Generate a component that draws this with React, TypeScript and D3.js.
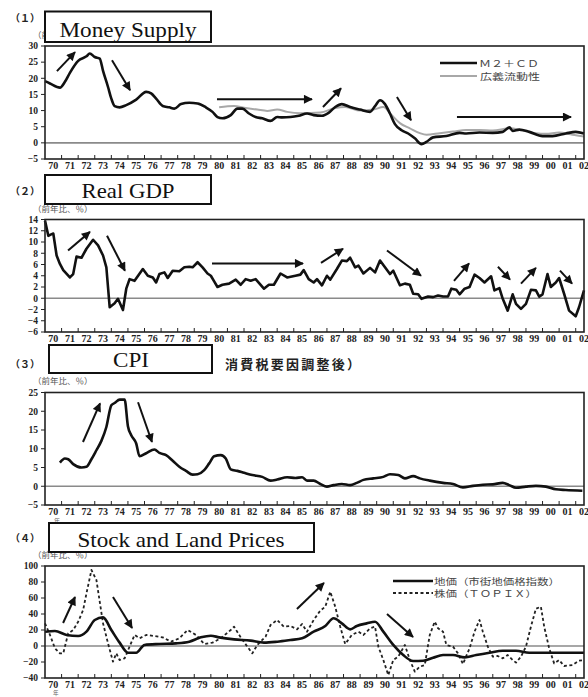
import React from 'react';
import * as d3 from 'd3';

const W = 588;
const H = 697;
const X0 = 45;
const X1 = 584;

// x axis: years 1970-2002
const years = d3.range(1970, 2003);
const yearLabels = years.map((y) => String(y % 100).padStart(2, '0'));

// (1) money supply, M2+CD
const m2T = [1970.0, 1970.3, 1970.9, 1971.2, 1971.5, 1972.0, 1972.5, 1972.7, 1973.0, 1973.3, 1973.5, 1973.8, 1974.0, 1974.2, 1974.5, 1974.9, 1975.5, 1976.1, 1976.4, 1976.7, 1977.1, 1977.5, 1977.8, 1978.2, 1978.7, 1979.2, 1979.7, 1980.1, 1980.4, 1980.7, 1981.2, 1981.6, 1981.9, 1982.3, 1982.7, 1983.1, 1983.6, 1984.0, 1984.3, 1984.8, 1985.3, 1985.8, 1986.2, 1986.7, 1987.1, 1987.5, 1987.9, 1988.4, 1989.0, 1989.6, 1989.9, 1990.2, 1990.5, 1990.8, 1991.1, 1991.5, 1991.9, 1992.3, 1992.7, 1993.0, 1993.4, 1994.2, 1995.0, 1995.4, 1996.2, 1997.0, 1997.6, 1998.0, 1998.2, 1998.6, 1999.2, 2000.0, 2000.6, 2001.4, 2002.0, 2002.5];
const m2V = [19.1, 18.4, 17.1, 18.9, 21.7, 25.4, 26.8, 27.7, 26.6, 26.1, 22.3, 17.3, 13.7, 11.4, 11.0, 11.7, 13.4, 15.8, 15.3, 13.7, 11.4, 11.0, 10.6, 12.0, 12.4, 12.2, 11.0, 9.6, 8.0, 7.6, 8.6, 10.6, 10.6, 9.1, 8.0, 7.6, 6.8, 8.0, 7.9, 8.0, 8.4, 9.1, 8.6, 8.4, 9.3, 11.1, 12.0, 11.1, 10.3, 9.6, 11.4, 13.2, 12.0, 9.1, 5.8, 3.9, 2.9, 1.4, -0.4, 0.3, 1.7, 2.1, 3.1, 2.9, 3.2, 3.1, 3.4, 4.8, 3.7, 4.1, 3.4, 2.1, 2.1, 2.9, 3.4, 2.9];

// (1) broad liquidity
const liqT = [1980.5, 1981.4, 1982.0, 1982.8, 1983.4, 1984.0, 1984.6, 1985.4, 1986.6, 1987.5, 1988.1, 1989.0, 1989.8, 1990.4, 1990.9, 1991.4, 1992.0, 1992.6, 1993.0, 1993.8, 1994.6, 1995.4, 1996.2, 1997.0, 1998.0, 1998.8, 1999.6, 2000.2, 2001.0, 2001.8, 2002.5];
const liqV = [11.0, 11.4, 10.9, 10.3, 9.9, 10.3, 9.6, 9.2, 9.4, 10.8, 11.1, 10.0, 10.3, 11.1, 8.6, 6.1, 4.5, 3.0, 2.5, 3.0, 3.5, 4.0, 4.0, 3.8, 4.5, 3.8, 3.0, 2.8, 3.2, 2.5, 2.0];

// (2) real GDP
const gdpT = [1970.0, 1970.2, 1970.4, 1970.5, 1970.7, 1970.9, 1971.1, 1971.5, 1971.7, 1971.9, 1972.2, 1972.5, 1972.9, 1973.2, 1973.5, 1973.7, 1973.9, 1974.2, 1974.4, 1974.7, 1974.9, 1975.1, 1975.4, 1975.9, 1976.2, 1976.5, 1976.7, 1976.9, 1977.2, 1977.4, 1977.7, 1978.1, 1978.4, 1978.7, 1978.9, 1979.2, 1979.5, 1979.8, 1980.0, 1980.2, 1980.4, 1980.7, 1981.1, 1981.5, 1981.8, 1982.1, 1982.4, 1982.7, 1983.2, 1983.5, 1983.8, 1984.2, 1984.6, 1985.1, 1985.4, 1985.6, 1985.9, 1986.2, 1986.4, 1986.7, 1987.0, 1987.2, 1987.6, 1987.9, 1988.2, 1988.4, 1988.7, 1988.9, 1989.2, 1989.6, 1989.9, 1990.2, 1990.5, 1990.8, 1991.0, 1991.4, 1991.7, 1992.0, 1992.2, 1992.5, 1992.7, 1993.1, 1993.4, 1993.7, 1994.0, 1994.3, 1994.5, 1994.8, 1995.0, 1995.3, 1995.6, 1995.9, 1996.2, 1996.5, 1996.9, 1997.1, 1997.4, 1997.6, 1997.9, 1998.2, 1998.4, 1998.7, 1999.0, 1999.3, 1999.6, 1999.8, 2000.0, 2000.3, 2000.5, 2000.8, 2001.0, 2001.3, 2001.6, 2002.0, 2002.2, 2002.5];
const gdpV = [13.8, 11.1, 11.4, 11.5, 7.6, 6.1, 5.0, 3.7, 4.3, 7.4, 7.2, 8.8, 10.4, 9.4, 7.6, 5.5, -1.6, -0.9, -0.1, -2.1, 1.7, 3.4, 3.1, 5.2, 4.0, 3.7, 2.8, 4.3, 4.6, 3.6, 4.9, 4.8, 5.5, 5.6, 5.5, 6.4, 5.5, 4.4, 4.0, 3.0, 2.0, 2.4, 2.6, 3.3, 2.4, 3.4, 3.1, 3.4, 1.7, 2.4, 2.4, 4.4, 3.7, 4.0, 4.2, 5.0, 3.4, 2.8, 3.4, 2.3, 4.0, 3.3, 5.2, 6.7, 6.6, 7.2, 5.5, 5.8, 4.4, 5.4, 4.6, 6.7, 5.5, 4.3, 4.9, 2.3, 2.6, 2.4, 0.8, 0.7, -0.1, 0.3, 0.2, 0.5, 0.3, 0.3, 1.7, 1.5, 0.7, 1.7, 2.0, 4.2, 3.6, 2.8, 3.9, 1.4, 1.8, -0.1, -2.2, 0.7, -1.0, -1.9, -1.0, 1.5, 1.4, 0.3, 0.7, 4.3, 2.0, 2.8, 3.6, 0.8, -2.2, -3.2, -1.6, 1.4];

// (3) CPI
const cpiT = [1970.9, 1971.2, 1971.4, 1971.7, 1972.2, 1972.5, 1972.8, 1973.1, 1973.4, 1973.7, 1974.0, 1974.2, 1974.5, 1974.8, 1975.0, 1975.2, 1975.5, 1975.7, 1976.1, 1976.6, 1976.9, 1977.3, 1977.7, 1978.1, 1978.5, 1978.9, 1979.2, 1979.6, 1979.9, 1980.2, 1980.6, 1980.9, 1981.2, 1981.6, 1982.0, 1982.5, 1983.1, 1983.6, 1984.0, 1984.6, 1985.1, 1985.5, 1985.8, 1986.2, 1986.6, 1987.0, 1987.4, 1987.9, 1988.4, 1988.8, 1989.2, 1989.8, 1990.4, 1990.8, 1991.3, 1991.7, 1992.2, 1992.6, 1993.2, 1994.0, 1994.6, 1995.2, 1995.8, 1996.4, 1997.0, 1997.6, 1998.0, 1998.4, 1999.0, 1999.6, 2000.2, 2000.8, 2001.4, 2002.4];
const cpiV = [6.3, 7.4, 7.2, 5.9, 5.0, 5.2, 7.2, 9.6, 12.1, 15.8, 21.6, 22.2, 23.1, 23.1, 16.0, 13.6, 11.4, 8.0, 8.8, 9.8, 8.9, 8.3, 6.8, 5.2, 4.1, 3.1, 3.2, 4.3, 6.1, 8.0, 8.3, 7.4, 4.5, 4.1, 3.6, 3.0, 2.5, 1.5, 1.8, 2.4, 2.2, 2.4, 1.5, 1.5, 0.6, -0.1, 0.3, 0.6, 0.3, 0.9, 1.7, 2.1, 2.5, 3.2, 3.0, 2.1, 2.7, 2.1, 1.5, 0.9, 0.6, -0.3, 0.1, 0.4, 0.5, 0.9, 0.3, -0.4, -0.1, 0.1, -0.1, -0.8, -1.0, -1.2];

// (4) land prices (urban land price index)
const landT = [1970.0, 1970.6, 1971.3, 1972.0, 1972.5, 1973.0, 1973.5, 1974.0, 1974.5, 1975.0, 1975.5, 1976.0, 1976.9, 1977.9, 1978.7, 1979.4, 1980.0, 1980.5, 1981.4, 1982.4, 1983.2, 1984.0, 1984.8, 1985.5, 1986.2, 1986.9, 1987.4, 1987.9, 1988.4, 1988.8, 1989.4, 1989.9, 1990.4, 1991.0, 1991.6, 1992.2, 1992.8, 1993.4, 1994.0, 1994.6, 1995.3, 1996.0, 1996.8, 1997.6, 1998.4, 1999.2, 2000.2, 2001.2, 2002.5];
const landV = [17.9, 18.8, 13.8, 12.5, 17.9, 32.5, 35.8, 20.0, 4.2, -8.4, -8.4, 1.3, 2.5, 3.3, 5.4, 10.8, 12.9, 10.8, 8.3, 6.7, 4.2, 5.4, 7.5, 9.6, 17.9, 25.0, 34.6, 28.3, 20.8, 25.0, 28.3, 30.4, 17.9, 1.3, -11.3, -18.8, -18.4, -14.6, -11.3, -11.3, -14.2, -11.3, -8.4, -5.9, -5.9, -8.4, -8.4, -8.4, -8.4];

// (4) stock prices (TOPIX)
const stockT = [1970.0, 1970.3, 1970.6, 1970.9, 1971.1, 1971.4, 1971.7, 1972.0, 1972.3, 1972.5, 1972.8, 1973.1, 1973.3, 1973.5, 1973.8, 1974.1, 1974.3, 1974.5, 1974.8, 1975.1, 1975.4, 1975.7, 1976.1, 1976.6, 1977.1, 1977.6, 1978.1, 1978.6, 1979.1, 1979.6, 1980.1, 1980.6, 1981.2, 1981.4, 1981.8, 1982.2, 1982.5, 1982.8, 1983.3, 1983.6, 1984.0, 1984.4, 1984.8, 1985.2, 1985.5, 1985.8, 1986.2, 1986.6, 1986.9, 1987.2, 1987.5, 1987.8, 1988.1, 1988.5, 1988.9, 1989.2, 1989.6, 1989.9, 1990.1, 1990.4, 1990.7, 1991.0, 1991.3, 1991.7, 1992.0, 1992.3, 1992.6, 1992.9, 1993.2, 1993.5, 1993.7, 1994.0, 1994.2, 1994.6, 1994.9, 1995.2, 1995.6, 1995.9, 1996.2, 1996.4, 1996.7, 1997.0, 1997.3, 1997.6, 1997.9, 1998.2, 1998.4, 1998.7, 1999.0, 1999.3, 1999.6, 1999.9, 2000.1, 2000.4, 2000.7, 2001.0, 2001.3, 2001.8, 2002.2, 2002.5];
const stockV = [28.3, 13.8, -2.9, -9.2, -9.2, 15.8, 20.0, 30.4, 45.0, 65.8, 95.0, 82.5, 55.4, 28.3, 3.3, -19.6, -9.2, -17.5, -15.4, -0.8, 13.8, 9.6, 13.8, 12.5, 10.8, 5.4, 9.6, 20.0, 13.8, 2.5, 4.2, 9.6, 20.0, 24.2, 10.8, -0.8, -9.2, 1.3, 11.7, 26.3, 32.5, 24.2, 25.0, 20.8, 27.5, 17.9, 32.5, 44.2, 49.2, 67.9, 49.2, 24.2, 2.5, 13.8, 17.9, 13.8, 22.1, 24.2, -0.8, -17.5, -36.3, -17.5, -13.3, 1.3, -17.5, -32.1, -25.8, -23.8, 13.8, 30.4, 22.1, 17.9, 1.3, -0.8, -9.2, -22.5, -2.9, 17.9, 32.5, 17.9, -0.8, -13.3, -12.5, -15.4, -11.3, -17.5, -20.8, -13.3, -0.8, 24.2, 46.5, 49.2, 24.2, -2.9, -21.7, -17.5, -25.0, -23.8, -18.4, -17.5];

// annotation arrows: [year0, value0, year1, value1]
const arrows1 = [[1970.72, 22.2, 1971.81, 28.1], [1974.04, 25.6, 1975.13, 16.3], [1980.37, 13.5, 1986.1, 13.5], [1986.76, 11.1, 1987.85, 16.9], [1991.22, 14.2, 1992.07, 7.0], [1994.84, 8.0, 2001.72, 8.0]];
const arrows2 = [[1971.39, 8.5, 1972.71, 11.8], [1973.74, 11.1, 1974.82, 4.9], [1980.07, 6.2, 1985.56, 6.2], [1986.64, 6.3, 1987.97, 8.8], [1990.62, 8.5, 1992.67, 4.0], [1994.66, 3.1, 1995.57, 6.2], [1997.31, 5.6, 1998.04, 3.3], [1998.7, 2.6, 1999.6, 5.4], [2001.05, 4.9, 2001.78, 2.6]];
const arrows3 = [[1972.29, 11.8, 1973.32, 22.1], [1975.61, 22.4, 1976.45, 11.8]];
const arrows4 = [[1971.09, 28.8, 1971.81, 61.3], [1974.1, 61.3, 1975.25, 22.5], [1985.19, 46.3, 1986.82, 78.8], [1990.62, 40, 1992.19, 11.3]];

const x = d3.scaleLinear().domain([1970, 2002.5]).range([X0, X1]);

const serif = '"Liberation Serif", "DejaVu Serif", serif';
const jp = '"Noto Sans CJK JP", sans-serif';

const zip = (t, v) => t.map((d, i) => [d, v[i]]);

const Panel = ({ top, bottom, domain, step, series, arrows }) => {
  const y = d3.scaleLinear().domain(domain).range([bottom, top]);
  const ticks = d3.range(domain[0], domain[1] + 0.001, step);
  return (
    <g>
      <line x1={X0} x2={X1} y1={y(0)} y2={y(0)} stroke="#8a8a8a" strokeWidth={1.6} />
      {series.map((s, i) => {
        const line = d3.line().x((d) => x(d[0])).y((d) => y(d[1])).curve(s.curve || d3.curveLinear);
        return (
          <path key={i} d={line(zip(s.t, s.v))} fill="none" stroke={s.color} strokeWidth={s.width}
            strokeDasharray={s.dash} strokeLinejoin="round" />
        );
      })}
      <rect x={X0} y={top} width={X1 - X0} height={bottom - top} fill="none" stroke="#222" strokeWidth={1.6} />
      {ticks.map((t) => (
        <g key={t}>
          <line x1={X0 - 4} x2={X0} y1={y(t)} y2={y(t)} stroke="#222" strokeWidth={1} />
          <text x={38} y={y(t)} dy="0.35em" textAnchor="end" fontFamily={serif} fontWeight="bold" fontSize={9.5} fill="#222">
            {t < 0 ? '−' + Math.abs(t) : t}
          </text>
        </g>
      ))}
      {years.slice(1).map((yr) => (
        <line key={yr} x1={x(yr)} x2={x(yr)} y1={bottom} y2={bottom - 4} stroke="#222" strokeWidth={1} />
      ))}
      {years.map((yr, i) => (
        <text key={yr} x={x(yr + 0.5)} y={bottom + 10} textAnchor="middle" fontFamily={serif} fontWeight="bold" fontSize={10} fill="#222">
          {yearLabels[i]}
        </text>
      ))}
      {arrows.map((a, i) => (
        <line key={i} x1={x(a[0])} y1={y(a[1])} x2={x(a[2])} y2={y(a[3])} stroke="#111" strokeWidth={2} markerEnd="url(#ah)" />
      ))}
    </g>
  );
};

const Header = ({ num, numY, box, title, titleX, titleY, titleW, unit, unitY }) => (
  <g>
    <text x={10} y={numY} fontFamily={jp} fontWeight="bold" fontSize={10} fill="#222">{num}</text>
    <text x={33} y={unitY} fontFamily={jp} fontSize={8.5} fill="#555">{unit}</text>
    <rect x={box[0]} y={box[1]} width={box[2] - box[0]} height={box[3] - box[1]} fill="#fff" stroke="#111" strokeWidth={2} />
    <text x={titleX} y={titleY} textAnchor="middle" fontFamily={serif} fontSize={21} fill="#111"
      textLength={titleW} lengthAdjust="spacingAndGlyphs">{title}</text>
  </g>
);

export default function App() {
  return (
    <svg width={W} height={H} style={{ position: 'absolute', left: 0, top: 0, background: '#fff' }}>
      <defs>
        <marker id="ah" viewBox="0 0 10 10" refX="9" refY="5" markerWidth="5" markerHeight="4.5" orient="auto">
          <path d="M0,0 L10,5 L0,10 z" fill="#111" />
        </marker>
      </defs>

      {/* (1) Money supply */}
      <Panel top={46} bottom={159} domain={[-5, 30]} step={5} arrows={arrows1}
        series={[
          { t: liqT, v: liqV, color: '#a8a8a8', width: 2, curve: d3.curveMonotoneX },
          { t: m2T, v: m2V, color: '#111', width: 2.6, curve: d3.curveMonotoneX },
        ]} />
      <Header num="（１）" numY={22} box={[45, 11.5, 211, 42]} title="Money Supply" titleX={128} titleY={36.5} titleW={137}
        unit="（前" unitY={38} />
      <line x1={440} x2={477} y1={63} y2={63} stroke="#111" strokeWidth={2.6} />
      <text x={479} y={66.5} fontFamily={jp} fontSize={9} fill="#444" textLength={60} lengthAdjust="spacingAndGlyphs">Ｍ２＋ＣＤ</text>
      <line x1={440} x2={477} y1={76} y2={76} stroke="#a8a8a8" strokeWidth={2} />
      <text x={480} y={79.5} fontFamily={jp} fontSize={9} fill="#444" textLength={60} lengthAdjust="spacingAndGlyphs">広義流動性</text>

      {/* (2) Real GDP */}
      <Panel top={219.5} bottom={332} domain={[-6, 14]} step={2} arrows={arrows2}
        series={[{ t: gdpT, v: gdpV, color: '#111', width: 2.6 }]} />
      <Header num="（２）" numY={195} box={[45, 175, 211, 204]} title="Real GDP" titleX={128} titleY={198} titleW={93}
        unit="（前年比、％）" unitY={212} />

      {/* (3) CPI */}
      <Panel top={392.5} bottom={505} domain={[-5, 25]} step={5} arrows={arrows3}
        series={[{ t: cpiT, v: cpiV, color: '#111', width: 2.6, curve: d3.curveMonotoneX }]} />
      <Header num="（３）" numY={368} box={[49, 345, 212, 373]} title="CPI" titleX={131} titleY={367} titleW={36}
        unit="（前年比、％）" unitY={384} />
      <text x={225} y={368.5} fontFamily={jp} fontWeight="bold" fontSize={13} fill="#222" textLength={135} lengthAdjust="spacing">消費税要因調整後）</text>
      <text x={54} y={523} fontFamily={jp} fontSize={6} fill="#666">年</text>

      {/* (4) Stock and land prices */}
      <Panel top={566} bottom={678} domain={[-40, 100]} step={20} arrows={arrows4}
        series={[
          { t: stockT, v: stockV, color: '#222', width: 1.8, dash: '3,2.5' },
          { t: landT, v: landV, color: '#111', width: 2.6, curve: d3.curveMonotoneX },
        ]} />
      <Header num="（４）" numY={542} box={[49, 523, 314, 552]} title="Stock and Land Prices" titleX={181} titleY={546.5} titleW={207}
        unit="（前年比、％）" unitY={558} />
      <line x1={393} x2={433} y1={581} y2={581} stroke="#111" strokeWidth={2.6} />
      <text x={434} y={584.5} fontFamily={jp} fontSize={9} fill="#444" textLength={126} lengthAdjust="spacingAndGlyphs">地価（市街地価格指数）</text>
      <line x1={393} x2={433} y1={593} y2={593} stroke="#222" strokeWidth={2} strokeDasharray="3,2.5" />
      <text x={434} y={596.5} fontFamily={jp} fontSize={9} fill="#444" textLength={103} lengthAdjust="spacingAndGlyphs">株価（ＴＯＰＩＸ）</text>
      <text x={53} y={694.5} fontFamily={jp} fontSize={5.5} fill="#666">年</text>
    </svg>
  );
}
